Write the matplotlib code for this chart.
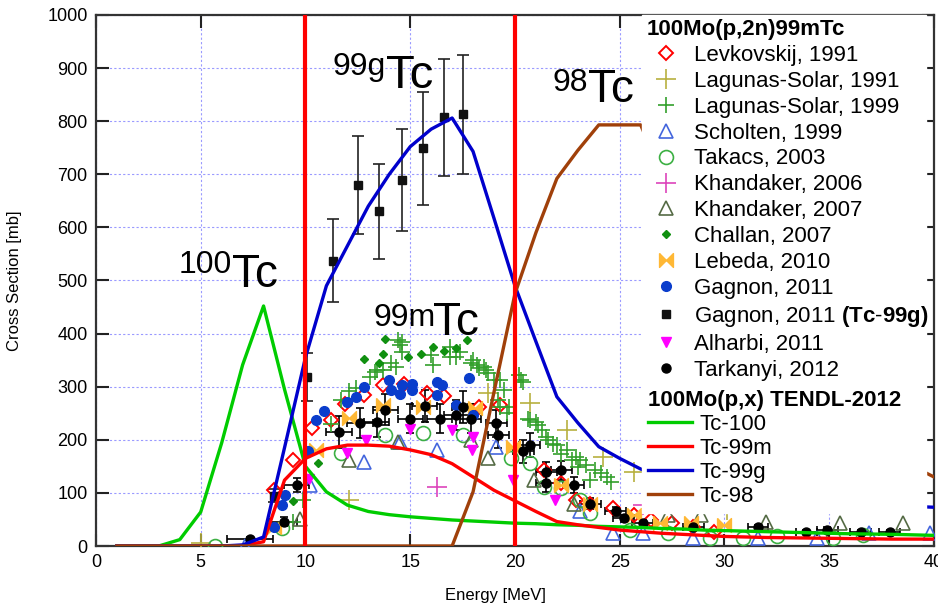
import matplotlib
matplotlib.use("Agg")
import matplotlib.pyplot as plt

plt.rcParams['font.family'] = ['Liberation Sans', 'DejaVu Sans']
plt.rcParams['mathtext.fontset'] = 'custom'
plt.rcParams['mathtext.rm'] = 'Liberation Sans'
plt.rcParams['mathtext.bf'] = 'Liberation Sans:bold'

# ---------------- TENDL-2012 curves ----------------
tendl_E = [1, 2, 3, 4, 5, 6, 7, 8, 9, 10, 11, 12, 13, 14, 15, 16, 17, 18, 19, 20,
           21, 22, 23, 24, 25, 26, 27, 28, 29, 30, 32, 34, 36, 38, 40]
tc100 = [0, 0, 0, 12, 64, 194, 341, 452, 295, 150, 102, 77, 65, 59, 55, 52, 49, 47, 45, 43,
         42, 40, 39, 37, 36, 35, 33, 32, 30, 29, 27, 25, 23, 22, 20]
tc99m = [0, 0, 0, 0, 0, 0, 1, 8, 124, 165, 183, 190, 190, 188, 181, 172, 155, 130, 105, 85,
         65, 46, 40, 35, 30, 27, 24, 22, 20, 18, 16, 15, 14, 13, 13]
tc99g = [0, 0, 0, 0, 0, 0, 2, 17, 185, 355, 490, 565, 640, 700, 752, 785, 806, 743, 617, 490,
         385, 281, 232, 187, 165, 145, 130, 118, 108, 100, 92, 86, 80, 76, 73]
tc98 = [0, 0, 0, 0, 0, 0, 0, 0, 0, 0, 0, 0, 0, 0, 0, 0, 0, 102, 290, 475,
        590, 692, 745, 793, 793, 793, 700, 610, 530, 460, 360, 280, 220, 170, 130]

# ---------------- experimental data ----------------
levk_E = [8.5, 9.4, 10.3, 11.2, 11.9, 12.8, 13.7, 14.7, 15.8, 16.6, 18.3, 19.3, 21.4, 22.2,
          22.9, 23.6, 24.7, 25.7, 26.5, 27.5, 28.5, 29.5]
levk_s = [105, 162, 222, 237, 268, 284, 303, 306, 289, 283, 262, 265, 143, 118,
          87, 80, 71, 58, 49, 43, 36, 27]

lag91_E = [5.0, 12.1, 18.7, 20.7, 22.5, 24.2, 25.7, 30.1]
lag91_s = [5, 87, 288, 269, 218, 168, 140, 68]

lag99_E = [9.4, 9.9, 11.2, 11.7, 12.1, 12.4, 13.1, 13.3, 13.4, 13.7, 14.1, 14.3, 14.4, 14.5,
           14.6, 14.6, 16.0, 16.1, 16.9, 16.9, 17.2, 17.4, 17.9, 18.0, 18.2, 18.3, 18.5, 18.6,
           18.7, 19.0, 19.2, 19.3, 19.3, 19.5, 19.6, 19.7, 20.2, 20.3, 20.4, 20.6, 20.7, 21.0,
           21.1, 21.3, 21.5, 21.6, 21.8, 22.0, 22.2, 22.5, 22.7, 22.9, 23.0, 23.1, 23.4, 23.6,
           23.8, 24.1, 24.4, 24.6]
lag99_s = [46, 86, 230, 275, 291, 297, 319, 328, 331, 331, 344, 338, 388, 378,
           385, 366, 360, 341, 375, 356, 356, 366, 344, 350, 341, 335, 338, 331,
           325, 313, 275, 313, 262, 294, 250, 262, 322, 313, 309, 240, 237, 234,
           228, 219, 206, 200, 193, 190, 174, 181, 162, 168, 149, 162, 152, 124,
           143, 137, 130, 121]

scholten_E = [7.1, 10.2, 12.8, 14.5, 16.3, 19.1, 23.1, 24.7, 26.1, 28.5, 31.6, 34.4, 36.9, 39.8]
scholten_s = [0, 115, 159, 196, 180, 186, 65, 24, 24, 15, 15, 15, 24, 24]

takacs_E = [5.7, 8.9, 11.7, 13.8, 15.6, 17.5, 19.8, 20.7, 21.4, 22.2, 23.1, 23.6, 25.5, 27.3,
            29.3, 30.9, 32.5, 35.2, 36.6]
takacs_s = [0, 33, 175, 209, 212, 209, 165, 156, 112, 109, 87, 62, 30, 24,
            15, 15, 18, 15, 21]

kh06_E = [16.3, 26.1]
kh06_s = [112, 77]

kh07_E = [9.75, 12.1, 14.4, 17.9, 18.7, 20.9, 22.8, 27.3, 28.9, 32.0, 35.5, 38.5]
kh07_s = [50, 162, 196, 199, 165, 124, 80, 58, 58, 46, 43, 43]

challan_E = [9.4, 10.6, 12.8, 13.5, 13.7, 13.8, 14.9, 15.5, 16.1, 16.6, 17.2, 17.7]
challan_s = [85, 157, 353, 344, 362, 389, 355, 362, 374, 368, 372, 388]

lebeda_E = [8.5, 10.5, 12.1, 13.7, 15.6, 18.1, 19.9, 22.2, 23.6, 25.7, 26.9, 28.4, 30.0]
lebeda_s = [36, 181, 241, 266, 262, 260, 187, 115, 80, 58, 43, 43, 40]

gagnon_E = [8.5, 8.9, 9.0, 10.1, 10.5, 10.9, 12.0, 12.4, 12.8, 14.0, 14.1, 14.5, 14.6, 15.1,
            15.1, 16.3, 16.5, 16.3, 17.2, 17.8, 18.0]
gagnon_s = [36, 77, 96, 178, 237, 255, 271, 281, 300, 312, 294, 287, 303, 306,
            294, 309, 303, 284, 265, 316, 247]

g99g_E = [8.5, 10.05, 11.3, 12.5, 13.5, 14.6, 15.6, 16.6, 17.5]
g99g_s = [95, 319, 537, 680, 630, 689, 749, 807, 813]
g99g_err = [12, 45, 78, 92, 90, 96, 106, 110, 112]

alharbi_E = [10.15, 12.0, 12.9, 15.0, 17.0, 17.95, 18.0, 19.9, 21.9]
alharbi_s = [127, 175, 200, 221, 218, 181, 206, 124, 87]

tark_E = [7.36, 8.96, 9.59, 11.6, 12.6, 13.4, 13.8, 15.0, 15.7, 16.4, 17.2, 17.5, 17.9, 19.1,
          19.2, 20.4, 20.7, 21.5, 21.5, 22.2, 22.8, 23.6, 24.8, 25.2, 26.1, 28.5, 31.6, 33.9,
          34.9, 36.5, 37.9]
tark_s = [14, 46, 115, 215, 231, 234, 257, 240, 264, 240, 247, 262, 240, 231,
          209, 178, 190, 140, 118, 143, 115, 80, 65, 52, 43, 36, 35, 27,
          31, 27, 27]
tark_xerr = [1.1, 0.65, 0.6, 0.6, 0.6, 0.6, 0.6, 0.6, 0.6, 0.6, 0.6, 0.5, 0.5, 0.5,
             0.5, 0.5, 0.5, 0.5, 0.5, 0.5, 0.5, 0.5, 0.5, 0.5, 0.5, 0.5, 0.5, 0.5,
             0.5, 0.5, 0.5]
tark_yerr = [3, 8, 14, 30, 28, 28, 30, 28, 30, 28, 28, 30, 28, 26,
             25, 22, 22, 18, 16, 18, 15, 11, 9, 7, 6, 5, 5, 4,
             4, 4, 4]

# ---------------- figure ----------------
fig = plt.figure(figsize=(9.38, 6.06), dpi=100)
ax = fig.add_axes([0.1023, 0.099, 0.8934, 0.8763])

bowtie = [(-1, 1), (0, 0), (1, 1), (1, -1), (0, 0), (-1, -1), (-1, 1)]

# error bars (no legend)
ax.errorbar(g99g_E, g99g_s, yerr=g99g_err, fmt='none', ecolor='#222222', elinewidth=1.2,
            capsize=4, capthick=1.2, zorder=3)
ax.errorbar(tark_E, tark_s, xerr=tark_xerr, yerr=tark_yerr, fmt='none', ecolor='black',
            elinewidth=1.2, capsize=3, capthick=1.2, zorder=3)

h = []
h += ax.plot(levk_E, levk_s, ls='none', marker='D', ms=7, mfc='none', mec='#ff0000', mew=1.4,
             label='Levkovskij, 1991', zorder=3)
h += ax.plot(lag91_E, lag91_s, ls='none', marker='+', ms=14, mec='#b8b040', mew=1.2,
             label='Lagunas-Solar, 1991', zorder=3)
h += ax.plot(lag99_E, lag99_s, ls='none', marker='+', ms=12, mec='#33a02c', mew=1.2,
             label='Lagunas-Solar, 1999', zorder=3)
h += ax.plot(scholten_E, scholten_s, ls='none', marker='^', ms=10, mfc='none', mec='#4466dd', mew=1.2,
             label='Scholten, 1999', zorder=3)
h += ax.plot(takacs_E, takacs_s, ls='none', marker='o', ms=10, mfc='none', mec='#3cb043', mew=1.2,
             label='Takacs, 2003', zorder=3)
h += ax.plot(kh06_E, kh06_s, ls='none', marker='+', ms=14, mec='#dd44bb', mew=1.2,
             label='Khandaker, 2006', zorder=3)
h += ax.plot(kh07_E, kh07_s, ls='none', marker='^', ms=10, mfc='none', mec='#556b45', mew=1.2,
             label='Khandaker, 2007', zorder=3)
h += ax.plot(challan_E, challan_s, ls='none', marker='D', ms=4.5, mfc='#109010', mec='#109010',
             label='Challan, 2007', zorder=3)
h += ax.plot(lebeda_E, lebeda_s, ls='none', marker=bowtie, ms=10, mfc='#ffb835', mec='#ffb835',
             label='Lebeda, 2010', zorder=3)
h += ax.plot(gagnon_E, gagnon_s, ls='none', marker='o', ms=7, mfc='#0a3dcc', mec='#0a3dcc',
             label='Gagnon, 2011', zorder=3)
h += ax.plot(g99g_E, g99g_s, ls='none', marker='s', ms=6, mfc='#111111', mec='#111111',
             label=r'Gagnon, 2011 $\mathbf{(Tc}$-$\mathbf{99g)}$', zorder=4)
h += ax.plot(alharbi_E, alharbi_s, ls='none', marker='v', ms=7, mfc='#ff00ff', mec='#ff00ff',
             label='Alharbi, 2011', zorder=3)
h += ax.plot(tark_E, tark_s, ls='none', marker='o', ms=6.5, mfc='black', mec='black',
             label='Tarkanyi, 2012', zorder=4)

# TENDL lines
lh = []
lh += ax.plot(tendl_E, tc100, color='#00cc00', lw=2.4, label='Tc-100', zorder=5)
lh += ax.plot(tendl_E, tc99m, color='#ff0000', lw=2.4, label='Tc-99m', zorder=5)
lh += ax.plot(tendl_E, tc99g, color='#0000cc', lw=2.4, label='Tc-99g', zorder=5)
lh += ax.plot(tendl_E, tc98, color='#a0400a', lw=2.4, label='Tc-98', zorder=5)

# red vertical marks
for xv in [10, 20]:
    ax.axvline(xv, color='#ff0000', lw=3, zorder=6)

# annotations
ann = dict(color='black', zorder=7)
ax.text(3.95, 557, '100', fontsize=23, va='top', ha='left', **ann)
ax.text(6.5, 488, 'Tc', fontsize=33, va='baseline', ha='left', **ann)
ax.text(11.3, 931, '99g', fontsize=23, va='top', ha='left', **ann)
ax.text(13.85, 862, 'Tc', fontsize=34, va='baseline', ha='left', **ann)
ax.text(13.25, 457, '99m', fontsize=23, va='top', ha='left', **ann)
ax.text(16.1, 397, 'Tc', fontsize=33, va='baseline', ha='left', **ann)
ax.text(21.8, 900, '98', fontsize=23, va='top', ha='left', **ann)
ax.text(23.5, 837, 'Tc', fontsize=33, va='baseline', ha='left', **ann)

ax.set_xlim(0, 40)
ax.set_ylim(0, 1000)
ax.set_xticks(range(0, 41, 5))
ax.set_yticks(range(0, 1001, 100))
ax.grid(True, color='#9a9aff', ls=(0, (2, 2)), lw=0.8, zorder=0)
ax.set_axisbelow(True)
ax.tick_params(direction='in', length=9, width=1.5, labelsize=13, top=True, right=True,
               color='#222222', pad=6)
for sp in ax.spines.values():
    sp.set_linewidth(1.6)
    sp.set_color('#333333')
ax.set_xlabel('Energy [MeV]', fontsize=12)
ax.set_ylabel('Cross Section [mb]', fontsize=12)
ax.xaxis.set_label_coords(0.477, -0.079)
ax.yaxis.set_label_coords(-0.088, 0.5)

common = dict(loc='upper left', mode='expand', borderaxespad=0, fontsize=16,
              title_fontproperties={'weight': 'bold', 'size': 16}, alignment='left',
              frameon=True, framealpha=1, facecolor='white', edgecolor='white', fancybox=False)
leg1 = ax.legend(handles=h, bbox_to_anchor=(0.652, 0.0, 0.338, 1.0),
                 title='100Mo(p,2n)99mTc', labelspacing=0.22, handlelength=1.8,
                 handletextpad=0.35, borderpad=0.18, **common)
leg1.set_zorder(20)
ax.add_artist(leg1)
leg2 = ax.legend(handles=lh, bbox_to_anchor=(0.652, 0.0, 0.338, 0.305),
                 title='100Mo(p,x) TENDL-2012', labelspacing=0.14, handlelength=2.0,
                 handletextpad=0.3, borderpad=0.25, **common)
leg2.set_zorder(20)

fig.savefig('out.png', dpi=100)
